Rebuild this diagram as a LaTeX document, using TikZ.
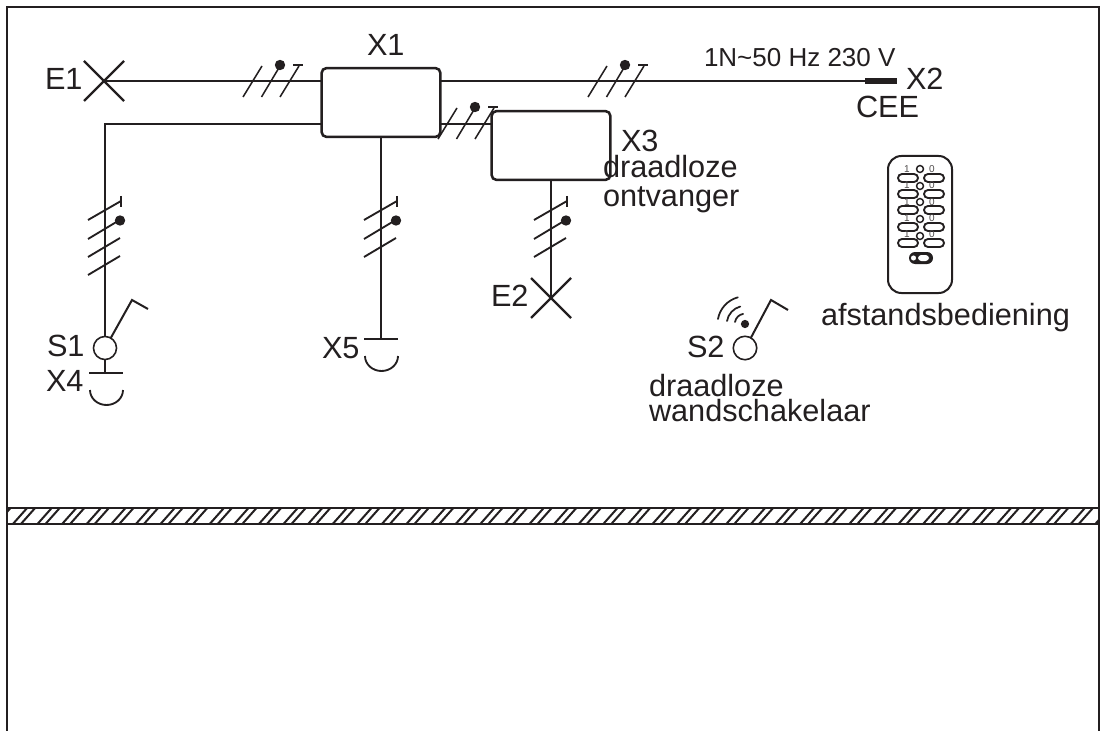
\documentclass[tikz,border=0pt]{standalone}
\usepackage{fontspec}
\setmainfont{Liberation Sans}
\definecolor{ink}{HTML}{231F20}
\tikzset{
  x=0.75pt,y=-0.75pt,
  every node/.style={inner sep=0pt,outer sep=0pt,text=ink},
  wire/.style={draw=ink,line width=1.9pt},
  thin wire/.style={draw=ink,line width=1.15pt},
  lamp/.style={draw=ink,line width=1.6pt},
  boxnode/.style={draw=ink,line width=1.9pt,rounded corners=3.5pt,minimum width=89pt,minimum height=51.5pt},
  lab/.style={anchor=base west,font=\fontsize{23}{23}\selectfont},
  labsmall/.style={anchor=base west,font=\fontsize{19.5}{19.5}\selectfont},
  tiny lab/.style={anchor=base,font=\fontsize{7.5}{7.5}\selectfont,text=ink!80},
  pill/.style={draw=ink,line width=1.4pt,rounded corners=3pt},
  dotm/.style={fill=ink,draw=none},
}
% horizontal wire tick group: x of first tick bottom, y of wire
\newcommand{\hticks}[2]{%
  \draw[thin wire] (#1,#2+16) -- (#1+19,#2-15);
  \draw[thin wire] (#1+18.5,#2+16) -- (#1+37,#2-15);
  \draw[thin wire] (#1+37,#2+16) -- (#1+56,#2-15);
  \draw[thin wire] (#1+50,#2-16) -- (#1+60,#2-16);
  \fill[dotm] (#1+37,#2-16) circle[radius=3.9pt];
}
% vertical wire tick group: x of wire, with 3 marks
\newcommand{\vticks}[1]{%
  \draw[wire,line width=1.4pt] (#1-17,220) -- (#1+16,201);
  \draw[wire,line width=1.4pt] (#1+16,196) -- (#1+16,207);
  \draw[wire,line width=1.4pt] (#1-17,239) -- (#1+13,221);
  \draw[wire,line width=1.4pt] (#1-17,257) -- (#1+15,238);
  \fill[dotm] (#1+15,220.5) circle[radius=3.9pt];
}
\newcommand{\remoterow}[2]{%
  \draw[pill] (898,#1-4) rectangle (918,#1+4);
  \draw[pill] (924,#1-4) rectangle (944,#1+4);
  \node[tiny lab] at (907,#1-5) {1};
  \node[tiny lab] at (932,#1-5) {0};
  \draw[ink,line width=1.1pt] (920,#2) circle[radius=2.6pt];
}
\begin{document}
\begin{tikzpicture}
\useasboundingbox (0,0) rectangle (1103,731);
\fill[white] (0,0) rectangle (1103,731);
% frame
\draw[wire] (7,731) -- (7,7) -- (1099,7) -- (1099,731);
% wall band
\begin{scope}
\clip (7,508) rectangle (1099,524);
\foreach \k in {-1,...,45}{
  \draw[ink,line width=1.5pt] (12+24.6*\k,525) -- (28+24.6*\k,507);
  \draw[ink,line width=1.5pt] (20+24.6*\k,525) -- (36+24.6*\k,507);
}
\end{scope}
\draw[ink,line width=1.5pt] (7,508) -- (1099,508) (7,524) -- (1099,524);
% boxes
\node[boxnode] (X1) at (381,102.5) {};
\node[boxnode] (X3) at (551,145.5) {};
% fixed points
\coordinate (E1c) at (104,81);
\coordinate (E2c) at (551,298);
\coordinate (X2a) at (865,81);
\coordinate (X2b) at (897,81);
\coordinate (corner) at (105,124);
\coordinate (j3) at (441,124);
\node[draw=ink,line width=1.2pt,circle,minimum size=17.3pt] (S1) at (105,348) {};
\node[draw=ink,line width=1.2pt,circle,minimum size=17.6pt] (S2) at (745,348) {};
\coordinate (X4top) at (105,373);
\coordinate (X5top) at (381,339);
% connectors
\draw[wire] (E1c) -- (E1c -| X1.west);
\draw[wire] (E1c -| X1.east) -- (X2a);
\draw[wire] (X1.west |- corner) -- (corner) -- (S1.north);
\draw[wire] (j3) -- (j3 -| X3.west);
\draw[wire] (X1.south) -- (X5top);
\draw[wire] (X3.south) -- (E2c);
\draw[wire] (S1.south) -- (X4top);
% X2 plug
\draw[ink,line width=4.6pt] (X2a) -- (X2b);
% lamps
\draw[lamp] (84,61) -- (124,101) (84,101) -- (124,61);
\draw[lamp] (531,278) -- (571,318) (531,318) -- (571,278);
% tick groups
\hticks{243}{81}
\hticks{588}{81}
\hticks{438}{123}
\vticks{105}
\draw[wire,line width=1.4pt] (88,275) -- (120,256);
\vticks{381}
\vticks{551}
% switches
\draw[wire,line width=1.5pt] (S1.60) -- (132,300) -- (148,309);
\draw[wire,line width=1.5pt] (S2.60) -- (771,300) -- (788,310);
% sockets
\draw[ink,line width=1.4pt] (89,373) -- (123,373);
\draw[ink,line width=1.4pt] (90,390) arc[start angle=180,end angle=0,x radius=16.5,y radius=15];
\draw[ink,line width=1.4pt] (364,339) -- (398,339);
\draw[ink,line width=1.4pt] (365,356) arc[start angle=180,end angle=0,x radius=16.5,y radius=15];
% wireless
\fill[dotm] (745,324) circle[radius=3.1pt];
\draw[ink,line width=1.3pt,line cap=round] (735,322) arc[start angle=170,end angle=100,radius=7.5pt];
\draw[ink,line width=1.3pt,line cap=round] (727,321) arc[start angle=170,end angle=105,radius=13.7pt];
\draw[ink,line width=1.3pt,line cap=round] (718,319) arc[start angle=170,end angle=105,radius=20.5pt];
% remote
\draw[ink,line width=1.5pt,rounded corners=10pt] (888,156) rectangle (952,293);
\remoterow{178}{169}
\remoterow{194}{186}
\remoterow{210}{202}
\remoterow{227}{219}
\remoterow{243}{236}
\fill[ink,rounded corners=4.5pt] (909,252) rectangle (933,264);
\fill[white,rounded corners=2.5pt] (918,255) rectangle (929,261);
\fill[white] (913.5,258) circle[radius=1.9pt];
% labels
\node[lab] (tE1) at (45,90) {E1};
\node[lab] (tX1) at (367,56) {X1};
\node[labsmall] (tV) at (704,67) {1N\char`\~50 Hz 230 V};
\node[lab] (tX2) at (906,90) {X2};
\node[lab] (tCEE) at (856,118) {CEE};
\node[lab] (tX3) at (621,152) {X3};
\node[lab] (tdr) at (603,178) {draadloze};
\node[lab] (ton) at (603,206) {ontvanger};
\node[lab] (tS1) at (47,356) {S1};
\node[lab] (tX4) at (46,391) {X4};
\node[lab] (tX5) at (322,358) {X5};
\node[lab] (tE2) at (491,306) {E2};
\node[lab] (tS2) at (687,357) {S2};
\node[lab] (tdr2) at (649,396) {draadloze};
\node[lab] (twa) at (649,421) {wandschakelaar};
\node[lab] (taf) at (821,325) {afstandsbediening};
\end{tikzpicture}
\end{document}
